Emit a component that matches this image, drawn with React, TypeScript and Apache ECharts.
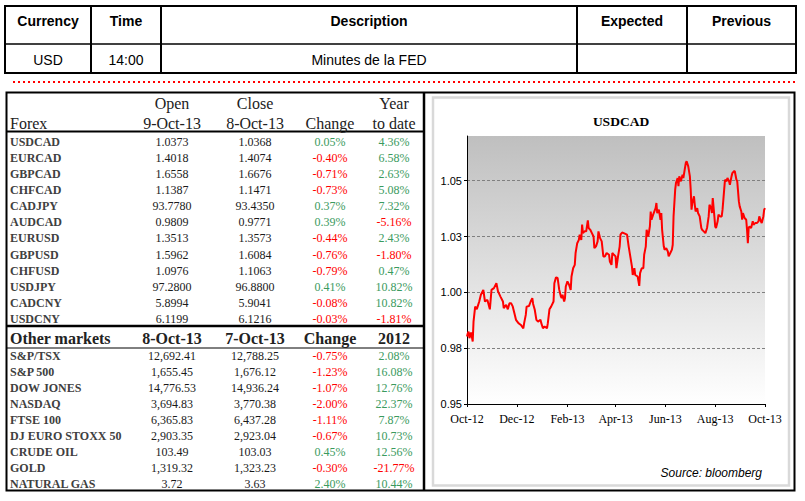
import React, { useEffect, useRef } from "react";
import * as echarts from "echarts";

// ---------- top event table ----------
const topHeaders = ["Currency", "Time", "Description", "Expected", "Previous"];
const topRow = ["USD", "14:00", "Minutes de la FED", "", ""];

// ---------- forex table ----------
const forexHeader1 = ["", "Open", "Close", "", "Year"];
const forexHeader2 = ["Forex", "9-Oct-13", "8-Oct-13", "Change", "to date"];
const forexNames = ["USDCAD", "EURCAD", "GBPCAD", "CHFCAD", "CADJPY", "AUDCAD", "EURUSD", "GBPUSD", "CHFUSD", "USDJPY", "CADCNY", "USDCNY"];
const forexOpen = ["1.0373", "1.4018", "1.6558", "1.1387", "93.7780", "0.9809", "1.3513", "1.5962", "1.0976", "97.2800", "5.8994", "6.1199"];
const forexClose = ["1.0368", "1.4074", "1.6676", "1.1471", "93.4350", "0.9771", "1.3573", "1.6084", "1.1063", "96.8800", "5.9041", "6.1216"];
const forexChange = [0.05, -0.40, -0.71, -0.73, 0.37, 0.39, -0.44, -0.76, -0.79, 0.41, -0.08, -0.03];
const forexYtd = [4.36, 6.58, 2.63, 5.08, 7.32, -5.16, 2.43, -1.80, 0.47, 10.82, 10.82, -1.81];

// ---------- other markets table ----------
const otherHeader = ["Other markets", "8-Oct-13", "7-Oct-13", "Change", "2012"];
const otherNames = ["S&P/TSX", "S&P 500", "DOW JONES", "NASDAQ", "FTSE 100", "DJ EURO STOXX 50", "CRUDE OIL", "GOLD", "NATURAL GAS"];
const otherOpen = ["12,692.41", "1,655.45", "14,776.53", "3,694.83", "6,365.83", "2,903.35", "103.49", "1,319.32", "3.72"];
const otherClose = ["12,788.25", "1,676.12", "14,936.24", "3,770.38", "6,437.28", "2,923.04", "103.03", "1,323.23", "3.63"];
const otherChange = [-0.75, -1.23, -1.07, -2.00, -1.11, -0.67, 0.45, -0.30, 2.40];
const otherYtd = [2.08, 16.08, 12.76, 22.37, 7.87, 10.73, 12.56, -21.77, 10.44];

// ---------- USDCAD chart ----------
const chartTitle = "USDCAD";
const sourceText = "Source: bloomberg";
// days since 1-Oct-2012
const tickDays = [0, 61, 123, 182, 243, 304, 365];
const tickLabels = ["Oct-12", "Dec-12", "Feb-13", "Apr-13", "Jun-13", "Aug-13", "Oct-13"];
const yTickLabels = ["0.95", "0.98", "1.00", "1.03", "1.05"];
const dayOffsets = [
  0, 1, 2, 3, 5, 7, 8, 10, 12, 13, 15, 17, 20, 22, 25, 28, 30, 33, 36, 38,
  41, 44, 45, 48, 50, 52, 54, 56, 58, 60, 63, 66, 69, 70, 72, 73, 76, 78, 80, 81,
  83, 85, 87, 90, 91, 93, 95, 98, 99, 101, 103, 106, 107, 109, 111, 113, 115, 116, 117, 119,
  120, 121, 123, 125, 127, 128, 130, 132, 133, 135, 137, 138, 140, 141, 142, 144, 146, 148, 149, 151,
  153, 155, 156, 158, 160, 161, 163, 165, 167, 169, 171, 174, 175, 177, 178, 180, 182, 183, 185, 187,
  188, 190, 192, 196, 198, 200, 202, 203, 205, 206, 209, 211, 212, 214, 216, 217, 219, 220, 222, 224,
  225, 226, 228, 231, 232, 233, 235, 237, 238, 239, 241, 242, 244, 246, 247, 249, 251, 252, 253, 255,
  256, 258, 259, 260, 262, 264, 265, 267, 268, 269, 271, 273, 274, 275, 276, 278, 279, 280, 282, 283,
  285, 287, 288, 290, 292, 294, 296, 297, 299, 300, 301, 303, 304, 305, 307, 308, 310, 312, 313, 315,
  316, 318, 319, 321, 322, 324, 325, 327, 328, 330, 331, 333, 334, 336, 337, 338, 340, 342, 343, 344,
  345, 346, 348, 350, 351, 353, 355, 357, 358, 360, 361, 363, 364, 365,
];
const usdcad = [
  0.9802, 0.9817, 0.9824, 0.9795, 0.9820, 0.9780, 0.9869, 0.9936, 0.9924, 0.9936, 0.9959, 0.9989, 1.0011, 0.9959, 0.9966, 0.9924, 1.0011, 1.0019, 1.0041, 1.0004,
  0.9981, 0.9959, 0.9929, 0.9944, 0.9924, 0.9951, 0.9951, 0.9937, 0.9907, 0.9877, 0.9862, 0.9854, 0.9839, 0.9862, 0.9899, 0.9936, 0.9939, 0.9959, 0.9974, 0.9948,
  0.9922, 0.9877, 0.9869, 0.9877, 0.9862, 0.9839, 0.9847, 0.9839, 0.9862, 0.9924, 0.9936, 0.9959, 1.0041, 1.0067, 1.0064, 1.0011, 0.9981, 0.9974, 0.9989, 0.9959,
  0.9974, 1.0026, 1.0049, 1.0034, 1.0011, 1.0071, 1.0108, 1.0123, 1.0176, 1.0220, 1.0235, 1.0258, 1.0235, 1.0303, 1.0265, 1.0273, 1.0273, 1.0322, 1.0288, 1.0280,
  1.0265, 1.0250, 1.0198, 1.0206, 1.0228, 1.0273, 1.0243, 1.0228, 1.0161, 1.0161, 1.0176, 1.0168, 1.0138, 1.0123, 1.0176, 1.0168, 1.0161, 1.0108, 1.0161, 1.0206,
  1.0258, 1.0268, 1.0265, 1.0258, 1.0206, 1.0161, 1.0116, 1.0078, 1.0108, 1.0078, 1.0071, 1.0029, 1.0086, 1.0108, 1.0108, 1.0168, 1.0206, 1.0280, 1.0250, 1.0295,
  1.0362, 1.0325, 1.0348, 1.0377, 1.0400, 1.0355, 1.0370, 1.0325, 1.0355, 1.0280, 1.0206, 1.0191, 1.0198, 1.0183, 1.0161, 1.0176, 1.0191, 1.0213, 1.0340, 1.0460,
  1.0490, 1.0512, 1.0475, 1.0519, 1.0497, 1.0527, 1.0512, 1.0557, 1.0579, 1.0587, 1.0564, 1.0519, 1.0460, 1.0370, 1.0400, 1.0430, 1.0392, 1.0362, 1.0377, 1.0355,
  1.0340, 1.0288, 1.0280, 1.0273, 1.0265, 1.0288, 1.0340, 1.0392, 1.0377, 1.0355, 1.0422, 1.0340, 1.0295, 1.0288, 1.0318, 1.0348, 1.0340, 1.0340, 1.0370, 1.0460,
  1.0504, 1.0497, 1.0512, 1.0497, 1.0482, 1.0519, 1.0534, 1.0542, 1.0542, 1.0504, 1.0497, 1.0407, 1.0385, 1.0362, 1.0325, 1.0355, 1.0333, 1.0325, 1.0280, 1.0220,
  1.0288, 1.0295, 1.0288, 1.0318, 1.0303, 1.0310, 1.0310, 1.0318, 1.0340, 1.0318, 1.0310, 1.0340, 1.0370, 1.0377,
];

const GREEN = "#3A9A5E";
const RED = "#FF0000";
const SERIF = '"Liberation Serif", "Times New Roman", serif';
const SANS = '"Liberation Sans", Arial, sans-serif';

function txt(x: number, y: number, text: string, font: string, fill: string, align = "center", z = 10) {
  return {
    type: "text",
    x,
    y,
    z,
    silent: true,
    style: { text, font, fill, align, textAlign: align, verticalAlign: "middle", textVerticalAlign: "middle" },
  };
}
function line(x1: number, y1: number, x2: number, y2: number, lineWidth: number, stroke = "#000", lineDash?: number[]) {
  return { type: "line", z: 5, silent: true, shape: { x1, y1, x2, y2 }, style: { stroke, lineWidth, lineDash } };
}
const pct = (v: number) => v.toFixed(2) + "%";

export default function App() {
  const ref = useRef<HTMLDivElement>(null);
  useEffect(() => {
    if (!ref.current) return;
    const chart = echarts.init(ref.current, null, { renderer: "svg" });
    const g: any[] = [];

    // top table
    const colEdges = [5, 91, 161, 577, 687, 796];
    g.push({ type: "rect", z: 5, silent: true, shape: { x: 5, y: 6, width: 791, height: 67 }, style: { fill: "none", stroke: "#000", lineWidth: 2 } });
    g.push(line(5, 44, 796, 44, 1.5));
    for (let i = 1; i < colEdges.length - 1; i++) g.push(line(colEdges[i], 6, colEdges[i], 73, 2));
    topHeaders.forEach((h, i) => {
      const cx = (colEdges[i] + colEdges[i + 1]) / 2;
      g.push(txt(cx, 21, h, `bold 14px ${SANS}`, "#000"));
      if (topRow[i]) g.push(txt(cx, 60, topRow[i], `14px ${SANS}`, "#000"));
    });
    // dotted separator
    g.push(line(13, 82, 796, 82, 2, RED, [2, 3]));

    // outer frame
    g.push({ type: "rect", z: 5, silent: true, shape: { x: 6.5, y: 92.5, width: 788, height: 398 }, style: { fill: "none", stroke: "#000", lineWidth: 2 } });
    g.push(line(424, 92, 424, 491, 2.5));

    // left tables
    const cols = [10, 172, 255, 330, 394];
    forexHeader1.forEach((h, i) => h && g.push(txt(cols[i], 103, h, `16px ${SERIF}`, "#222")));
    forexHeader2.forEach((h, i) => g.push(txt(cols[i], 123, h, `16px ${SERIF}`, "#222", i === 0 ? "left" : "center")));
    g.push(line(6, 131.5, 424, 131.5, 2));
    forexNames.forEach((n, i) => {
      const y = 141.5 + i * 16.15;
      g.push(txt(cols[0], y, n, `bold 12px ${SERIF}`, "#404040", "left"));
      g.push(txt(cols[1], y, forexOpen[i], `12px ${SERIF}`, "#1a1a1a"));
      g.push(txt(cols[2], y, forexClose[i], `12px ${SERIF}`, "#1a1a1a"));
      g.push(txt(cols[3], y, pct(forexChange[i]), `12px ${SERIF}`, forexChange[i] < 0 ? RED : GREEN));
      g.push(txt(cols[4], y, pct(forexYtd[i]), `12px ${SERIF}`, forexYtd[i] < 0 ? RED : GREEN));
    });
    g.push(line(6, 326, 424, 326, 2.5));
    otherHeader.forEach((h, i) => g.push(txt(cols[i], 338, h, `bold 16px ${SERIF}`, "#222", i === 0 ? "left" : "center")));
    g.push(line(6, 348, 424, 348, 1));
    otherNames.forEach((n, i) => {
      const y = 356.3 + i * 16.0;
      g.push(txt(cols[0], y, n, `bold 12px ${SERIF}`, "#404040", "left"));
      g.push(txt(cols[1], y, otherOpen[i], `12px ${SERIF}`, "#1a1a1a"));
      g.push(txt(cols[2], y, otherClose[i], `12px ${SERIF}`, "#1a1a1a"));
      g.push(txt(cols[3], y, pct(otherChange[i]), `12px ${SERIF}`, otherChange[i] < 0 ? RED : GREEN));
      g.push(txt(cols[4], y, pct(otherYtd[i]), `12px ${SERIF}`, otherYtd[i] < 0 ? RED : GREEN));
    });

    // chart panel
    g.push({ type: "rect", z: 1, silent: true, shape: { x: 433, y: 97.5, width: 356, height: 388 }, style: { fill: "none", stroke: "#D9D9D9", lineWidth: 2.5 } });
    g.push(txt(621, 121, chartTitle, `bold 13.5px ${SERIF}`, "#000"));
    g.push(txt(762, 472.5, sourceText, `italic 12px ${SANS}`, "#000", "right"));

    chart.setOption({
      animation: false,
      backgroundColor: "#fff",
      graphic: { elements: g },
      grid: {
        left: 467,
        right: 40,
        top: 136,
        bottom: 97,
        show: true,
        z: 0,
        borderWidth: 0,
        backgroundColor: new echarts.graphic.LinearGradient(0, 0, 0, 1, [
          { offset: 0, color: "#BFBFBF" },
          { offset: 1, color: "#FFFFFF" },
        ]),
      },
      xAxis: {
        type: "value",
        z: 4,
        min: 0,
        max: 365,
        axisLine: { lineStyle: { color: "#000", width: 1 } },
        axisTick: { show: true, customValues: tickDays, length: 3, lineStyle: { color: "#000" } },
        axisLabel: {
          customValues: tickDays,
          margin: 9,
          color: "#000",
          fontFamily: "Liberation Serif",
          fontSize: 12,
          formatter: (v: number) => tickLabels[tickDays.indexOf(v)] ?? "",
        },
        splitLine: { show: false },
      },
      yAxis: {
        type: "value",
        z: 4,
        min: 0.95,
        max: 1.07,
        interval: 0.025,
        axisLine: { show: true, lineStyle: { color: "#000", width: 1 } },
        axisTick: { show: true, length: 3, lineStyle: { color: "#000" } },
        axisLabel: {
          showMaxLabel: false,
          margin: 5,
          color: "#000",
          fontFamily: '"Liberation Sans Narrow", "Liberation Sans"',
          fontSize: 11,
          formatter: (v: number) => yTickLabels[Math.round((v - 0.95) / 0.025)] ?? "",
        },
        splitLine: { show: true, showMinLine: false, showMaxLine: false, lineStyle: { color: "#808080", type: [3, 2], width: 1 } },
      },
      series: [
        {
          type: "line",
          data: dayOffsets.map((d, i) => [d, usdcad[i]]),
          showSymbol: false,
          symbol: "none",
          lineStyle: { color: "#FF0000", width: 2 },
          z: 5,
        },
      ],
    });
    return () => chart.dispose();
  }, []);
  return <div ref={ref} style={{ position: "absolute", left: 0, top: 0, width: 805, height: 501 }} />;
}
